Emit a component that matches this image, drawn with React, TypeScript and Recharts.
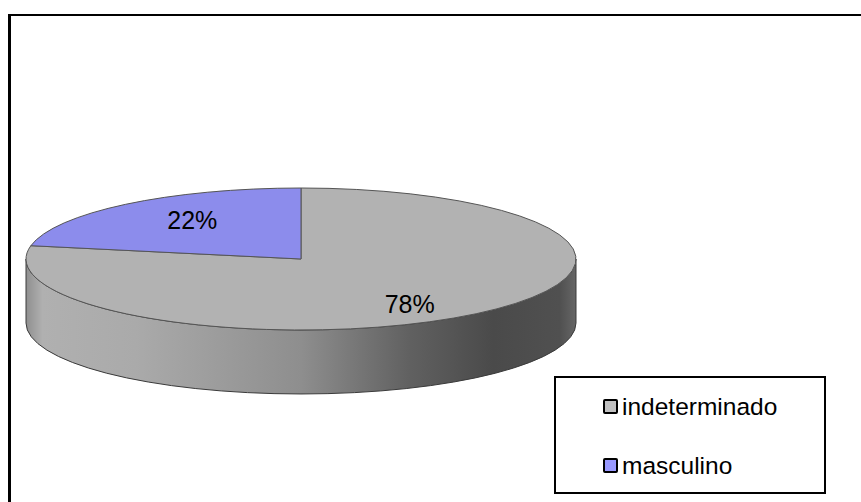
import React from "react";
import { PieChart, Pie, Cell, Legend } from "recharts";

const categories = ["indeterminado", "masculino"];
const values = [78, 22];
const topColors = ["#b2b2b2", "#8c8cec"];
const legendColors = ["#c0c0c0", "#9999ff"];

const chartData = categories.map((name, i) => ({ name, value: values[i] }));

const CX = 301;
const CY = 259;
const RX = 275;
const SQUASH = 71 / 275;
const DEPTH = 64;
const RAD = Math.PI / 180;

function px(cx: number, r: number, a: number) {
  return cx + r * Math.cos(a * RAD);
}
function py(cy: number, r: number, a: number) {
  return cy - r * SQUASH * Math.sin(a * RAD);
}

function EllipticalSector(props: any) {
  const { cx, cy, outerRadius: r, startAngle, endAngle, fill } = props;
  const ry = r * SQUASH;
  const large = Math.abs(startAngle - endAngle) > 180 ? 1 : 0;
  const wallStart = Math.min(startAngle, 0);
  const wallEnd = Math.max(endAngle, -180);
  const hasWall = wallStart > wallEnd;
  return (
    <g>
      {hasWall && (
        <>
          <defs>
            <linearGradient id="wallGrad" gradientUnits="userSpaceOnUse" x1={cx - r} x2={cx + r} y1="0" y2="0">
              <stop offset="0" stopColor="#8f8f8f" />
              <stop offset="0.03" stopColor="#b0b0b0" />
              <stop offset="0.2" stopColor="#aaaaaa" />
              <stop offset="0.5" stopColor="#8e8e8e" />
              <stop offset="0.7" stopColor="#606060" />
              <stop offset="0.85" stopColor="#4a4a4a" />
              <stop offset="0.97" stopColor="#505050" />
              <stop offset="1" stopColor="#666666" />
            </linearGradient>
          </defs>
          <path
            d={`M${px(cx, r, wallEnd)},${py(cy, r, wallEnd)} A${r},${ry} 0 0 0 ${px(cx, r, wallStart)},${py(cy, r, wallStart)} L${px(cx, r, wallStart)},${py(cy, r, wallStart) + DEPTH} A${r},${ry} 0 0 1 ${px(cx, r, wallEnd)},${py(cy, r, wallEnd) + DEPTH} Z`}
            fill="url(#wallGrad)"
            stroke="#3a3a3a"
            strokeWidth={1}
          />
        </>
      )}
      <path
        d={`M${cx},${cy} L${px(cx, r, startAngle)},${py(cy, r, startAngle)} A${r},${ry} 0 ${large} 1 ${px(cx, r, endAngle)},${py(cy, r, endAngle)} Z`}
        fill={fill}
        stroke="#555555"
        strokeWidth={1}
      />
    </g>
  );
}

function percentLabel(props: any) {
  const { cx, cy, outerRadius: r, midAngle, percent } = props;
  const x = cx + r * 0.62 * Math.cos(midAngle * RAD);
  const y = cy - r * SQUASH * 0.76 * Math.sin(midAngle * RAD) + 3;
  return (
    <text x={x} y={y} textAnchor="middle" dominantBaseline="central" fontFamily="'Liberation Sans', Arial, sans-serif" fontSize={25} fill="#000">
      {`${Math.round(percent * 100)}%`}
    </text>
  );
}

function LegendBox() {
  return (
    <div style={{ position: "relative", width: "100%", height: "100%" }}>
      {categories.map((name, i) => (
        <div key={name} style={{ position: "absolute", left: 47, top: i === 0 ? 20 : 79, height: 17, display: "flex", alignItems: "center" }}>
          <span style={{ boxSizing: "border-box", width: 15, height: 15, background: legendColors[i], border: "2px solid #000", borderRadius: 2, marginRight: 4, flex: "none" }} />
          <span style={{ fontFamily: "'Liberation Sans', Arial, sans-serif", fontSize: 24.5, color: "#000", lineHeight: "17px", whiteSpace: "nowrap" }}>{name}</span>
        </div>
      ))}
    </div>
  );
}

export default function App() {
  return (
    <div style={{ position: "absolute", left: 0, top: 0, width: 861, height: 502, background: "#fff", overflow: "hidden" }}>
      <div style={{ position: "absolute", left: 8, top: 14, width: 880, height: 520, boxSizing: "border-box", borderLeft: "3px solid #000", borderTop: "2px solid #000" }} />
      <div style={{ position: "absolute", left: 0, top: 0 }}>
        <PieChart width={861} height={502} margin={{ top: 0, right: 0, bottom: 0, left: 0 }}>
          <Pie
            data={chartData}
            dataKey="value"
            nameKey="name"
            cx={CX}
            cy={CY}
            outerRadius={RX}
            innerRadius={0}
            startAngle={90}
            endAngle={-270}
            isAnimationActive={false}
            stroke="none"
            shape={EllipticalSector}
            label={percentLabel}
            labelLine={false}
          >
            {chartData.map((d, i) => (
              <Cell key={d.name} fill={topColors[i]} />
            ))}
          </Pie>
          <Legend
            content={<LegendBox />}
            layout="vertical"
            wrapperStyle={{ position: "absolute", left: 554, top: 376, width: 272, height: 118, right: "auto", bottom: "auto", boxSizing: "border-box", border: "2px solid #000", background: "#fff" }}
          />
        </PieChart>
      </div>
    </div>
  );
}
